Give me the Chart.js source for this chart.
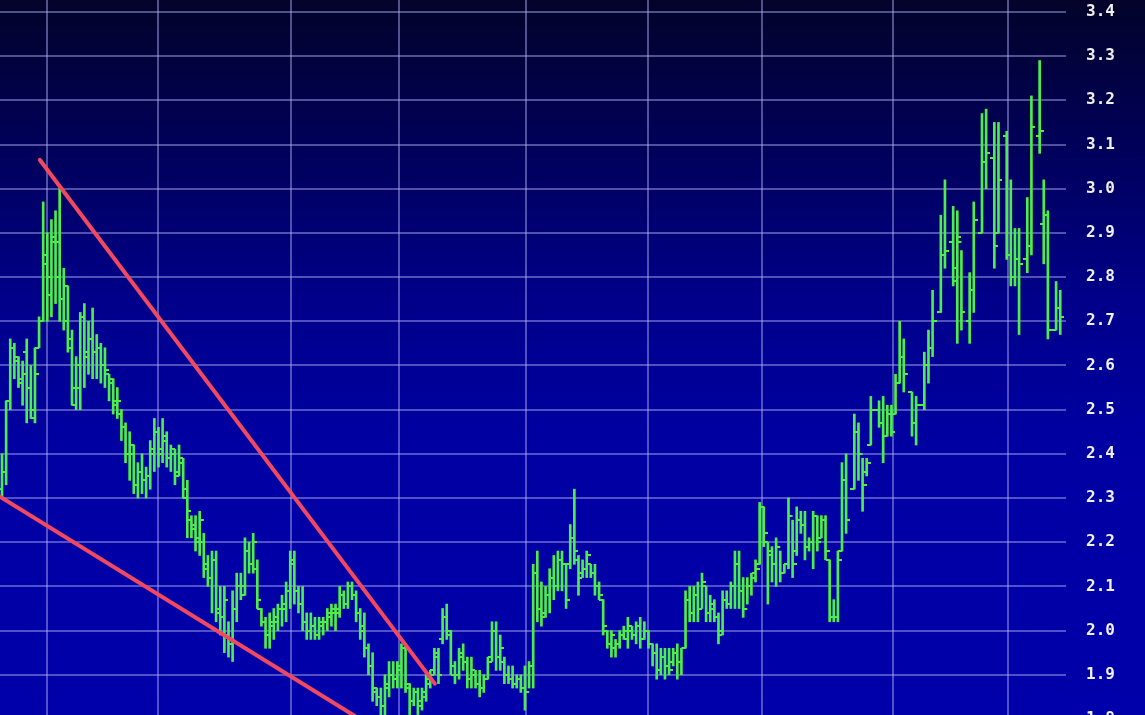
<!DOCTYPE html>
<html>
<head>
<meta charset="utf-8">
<script src="https://cdn.jsdelivr.net/npm/chart.js@4/dist/chart.umd.min.js"></script>
<style>
  html, body { margin: 0; padding: 0; background: #000066; }
  #wrap { width: 1145px; height: 715px; position: relative; }
</style>
</head>
<body>
<div id="wrap"><canvas id="ohlc"></canvas></div>
<script>
// trading sessions (x positions of the bars, a few sessions missing at the right end)
const sessions = [
  0,1,2,3,4,5,6,7,8,9,10,11,12,13,14,15,16,17,18,19,
  20,21,22,23,24,25,26,27,28,29,30,31,32,33,34,35,36,37,38,39,
  40,41,42,43,44,45,46,47,48,49,50,51,52,53,54,55,56,57,58,59,
  60,61,62,63,64,65,66,67,68,69,70,71,72,73,74,75,76,77,78,79,
  80,81,82,83,84,85,86,87,88,89,90,91,92,93,94,95,96,97,98,99,
  100,101,102,103,104,105,106,107,108,109,110,111,112,113,114,115,116,117,118,119,
  120,121,122,123,124,125,126,127,128,129,130,131,132,133,134,135,136,137,138,139,
  140,141,142,143,144,145,146,147,148,149,150,151,152,153,154,155,156,157,158,159,
  160,161,162,163,164,165,166,167,168,169,170,171,172,173,174,175,176,177,178,179,
  180,181,182,183,184,185,186,187,188,189,190,191,192,193,194,195,196,197,198,199,
  200,201,202,203,
  204,205,207,208,209,210,211,213,214,215,216,217,218,219,221,222,224,225,226,228,
  229,231,232,233,235,236,238,239,241,242,244,245,246,247,249,250,252,253,254,256,257
];

const highs = [
  2.40,2.52,2.66,2.65,2.62,2.61,2.66,2.60,2.64,2.71,2.97,2.90,2.93,2.95,3.00,2.82,
  2.78,2.68,2.62,2.72,2.74,2.70,2.73,2.67,2.65,2.64,2.58,2.57,2.55,2.50,2.47,2.45,
  2.42,2.38,2.40,2.37,2.43,2.48,2.46,2.48,2.45,2.42,2.41,2.42,2.39,
  2.34,2.26,2.26,2.27,2.22,2.17,2.18,2.18,2.10,2.10,
  2.02,2.09,2.13,2.13,2.21,2.20,2.22,2.16,2.05,2.03,
  2.04,2.05,2.06,2.08,2.11,2.18,2.18,2.10,2.10,2.04,
  2.04,2.03,2.03,2.03,2.05,2.06,2.06,2.10,2.09,2.11,
  2.11,2.09,2.05,2.04,1.97,1.95,1.87,1.87,1.90,1.93,
  1.93,1.93,1.97,1.97,1.88,1.87,1.87,1.87,1.90,1.91,
  1.96,1.96,2.05,2.06,2.00,1.93,1.96,1.97,1.94,1.94,
  1.91,1.91,1.90,1.94,2.02,2.02,1.99,1.94,1.92,1.92,
  1.90,1.90,1.92,1.93,2.15,
  2.18,2.11,2.10,2.14,2.17,2.18,2.18,2.15,2.24,2.32,
  2.17,2.16,2.18,2.15,2.15,2.11,2.07,2.00,2.00,1.98,
  2.00,2.01,2.03,2.01,2.02,2.03,2.02,2.00,1.97,1.97,
  1.96,1.96,1.96,1.96,1.97,1.96,2.09,2.10,2.10,2.11,
  2.13,2.10,2.08,2.07,2.04,2.09,2.09,2.11,2.18,2.18,
  2.12,2.12,2.13,2.16,2.29,2.28,2.20,2.19,2.21,2.18,
  2.15,2.30,2.25,2.28,2.27,2.27,2.21,2.27,2.26,2.26,
  2.26,2.16,2.07,2.18,
  2.38,2.40,2.49,2.47,2.39,2.39,2.53,2.52,2.53,2.51,
  2.51,2.58,2.70,2.66,2.54,2.53,2.63,2.68,2.77,2.94,
  3.02,2.96,2.95,2.86,2.81,2.97,3.17,3.18,3.15,3.15,
  3.13,3.02,2.91,2.91,2.98,3.21,3.29,3.02,2.95,2.79,2.77
];

const lows = [
  2.30,2.33,2.50,2.57,2.55,2.51,2.47,2.48,2.47,2.64,2.70,2.70,2.71,2.74,2.70,2.68,
  2.63,2.51,2.50,2.50,2.55,2.58,2.57,2.57,2.56,2.55,2.52,2.49,2.48,2.43,2.38,2.34,
  2.31,2.30,2.31,2.30,2.32,2.36,2.37,2.38,2.37,2.36,2.33,2.35,2.30,
  2.21,2.21,2.18,2.17,2.12,2.10,2.04,2.02,1.99,1.95,
  1.94,1.93,2.02,2.07,2.08,2.13,2.13,2.05,2.01,1.96,
  1.96,1.98,2.00,2.01,2.02,2.05,2.06,2.04,2.00,1.98,
  1.98,1.98,1.98,1.99,2.00,2.01,2.00,2.03,2.05,2.05,
  2.07,2.02,1.98,1.94,1.90,1.84,1.83,1.80,1.80,1.85,
  1.87,1.87,1.87,1.86,1.81,1.83,1.81,1.82,1.84,1.87,
  1.90,1.88,1.97,1.98,1.90,1.88,1.89,1.91,1.87,1.87,
  1.87,1.85,1.86,1.89,1.93,1.91,1.91,1.88,1.88,1.87,
  1.87,1.86,1.82,1.87,1.87,
  2.02,2.01,2.03,2.04,2.07,2.09,2.09,2.05,2.14,2.15,
  2.08,2.12,2.12,2.12,2.08,2.07,1.99,1.96,1.94,1.94,
  1.96,1.98,1.96,1.98,1.97,1.96,1.98,1.96,1.92,1.89,
  1.90,1.89,1.90,1.92,1.89,1.90,1.96,2.02,2.02,2.02,
  2.05,2.02,2.02,2.02,1.97,1.99,2.05,2.05,2.05,2.05,
  2.03,2.06,2.08,2.11,2.15,2.19,2.06,2.11,2.10,2.11,
  2.13,2.14,2.12,2.17,2.22,2.16,2.18,2.14,2.18,2.21,
  2.16,2.02,2.02,2.02,
  2.18,2.22,2.32,2.34,2.27,2.35,2.42,2.46,2.38,2.44,
  2.44,2.49,2.56,2.54,2.44,2.42,2.50,2.56,2.62,2.72,
  2.82,2.78,2.65,2.68,2.65,2.72,2.90,3.00,2.82,2.90,
  2.84,2.78,2.78,2.67,2.81,2.85,3.08,2.83,2.66,2.68,2.67
];

const opens = [
  2.32,2.36,2.52,2.64,2.61,2.56,2.63,2.55,2.48,2.64,2.70,2.83,2.80,2.88,2.88,2.75,
  2.70,2.66,2.55,2.55,2.71,2.62,2.66,2.63,2.64,2.60,2.58,2.56,2.52,2.49,2.46,2.40,
  2.40,2.33,2.36,2.34,2.35,2.40,2.45,2.41,2.43,2.39,2.40,2.36,2.38,
  2.30,2.25,2.24,2.20,2.20,2.15,2.12,2.16,2.05,2.03,
  1.99,1.98,2.05,2.10,2.10,2.18,2.15,2.14,2.05,2.02,
  1.99,2.01,2.02,2.05,2.05,2.09,2.15,2.09,2.06,2.02,
  2.00,2.01,1.99,2.01,2.02,2.03,2.04,2.04,2.08,2.06,
  2.10,2.08,2.04,2.00,1.96,1.92,1.86,1.85,1.83,1.87,
  1.90,1.89,1.91,1.96,1.87,1.84,1.86,1.84,1.85,1.88,
  1.91,1.94,1.98,2.03,1.99,1.90,1.90,1.95,1.93,1.89,
  1.90,1.88,1.87,1.89,1.94,2.00,1.94,1.93,1.90,1.89,
  1.88,1.89,1.87,1.86,1.92,
  2.13,2.05,2.04,2.08,2.12,2.10,2.16,2.15,2.15,2.21,
  2.16,2.13,2.14,2.15,2.13,2.10,2.07,2.00,1.97,1.96,
  1.97,1.99,1.98,2.00,1.99,2.01,1.98,2.00,1.97,1.95,
  1.91,1.94,1.92,1.93,1.95,1.93,1.96,2.07,2.04,2.08,
  2.05,2.10,2.04,2.05,2.03,2.00,2.07,2.06,2.10,2.15,
  2.09,2.05,2.10,2.13,2.15,2.28,2.20,2.17,2.15,2.19,
  2.13,2.15,2.26,2.18,2.25,2.24,2.19,2.20,2.26,2.21,
  2.25,2.16,2.03,2.03,
  2.18,2.34,2.32,2.45,2.40,2.36,2.42,2.50,2.47,2.44,
  2.49,2.49,2.56,2.62,2.54,2.47,2.51,2.60,2.64,2.72,
  2.85,2.88,2.82,2.88,2.70,2.77,2.90,3.06,3.07,2.90,
  3.12,2.85,2.80,2.84,2.84,2.87,3.12,2.92,2.94,2.68,2.73
];

const closes = [
  2.36,2.52,2.64,2.62,2.57,2.58,2.55,2.50,2.58,2.70,2.85,2.76,2.89,2.80,2.75,2.78,
  2.64,2.51,2.60,2.71,2.63,2.66,2.63,2.64,2.60,2.59,2.57,2.51,2.52,2.46,2.40,2.42,
  2.33,2.36,2.34,2.35,2.41,2.45,2.40,2.44,2.39,2.41,2.35,2.39,2.32,
  2.27,2.23,2.21,2.25,2.14,2.12,2.16,2.04,2.03,2.07,
  1.97,2.05,2.10,2.08,2.18,2.15,2.20,2.07,2.02,1.99,
  2.02,2.03,2.05,2.06,2.09,2.16,2.09,2.06,2.02,2.00,
  2.01,1.99,2.02,2.02,2.04,2.05,2.05,2.08,2.06,2.10,
  2.08,2.04,2.01,1.96,1.92,1.87,1.85,1.83,1.88,1.90,
  1.89,1.92,1.96,1.88,1.84,1.86,1.83,1.86,1.89,1.90,
  1.95,1.90,2.03,2.00,1.92,1.90,1.94,1.93,1.89,1.91,
  1.88,1.87,1.89,1.93,2.00,1.94,1.96,1.90,1.89,1.88,
  1.89,1.87,1.86,1.92,2.13,
  2.05,2.03,2.08,2.12,2.10,2.16,2.15,2.07,2.21,2.18,
  2.12,2.14,2.17,2.13,2.10,2.08,2.01,1.97,1.99,1.97,
  1.99,2.00,2.01,1.99,2.01,1.98,2.00,1.97,1.95,1.91,
  1.94,1.92,1.91,1.95,1.93,1.96,2.07,2.04,2.08,2.05,
  2.11,2.04,2.06,2.03,1.99,2.07,2.06,2.10,2.15,2.09,
  2.05,2.10,2.12,2.14,2.28,2.22,2.18,2.15,2.19,2.13,
  2.15,2.26,2.15,2.25,2.24,2.19,2.20,2.26,2.20,2.25,
  2.18,2.03,2.03,2.16,
  2.34,2.25,2.45,2.40,2.33,2.38,2.50,2.47,2.44,2.49,
  2.45,2.56,2.62,2.58,2.47,2.51,2.60,2.64,2.70,2.85,
  2.86,2.79,2.89,2.72,2.77,2.93,3.06,3.08,2.87,3.02,
  2.85,2.80,2.84,2.83,2.87,3.14,3.13,2.94,2.68,2.73,2.71
];

// price gridlines / labels on the right
const priceTicks = [1.8,1.9,2.0,2.1,2.2,2.3,2.4,2.5,2.6,2.7,2.8,2.9,3.0,3.1,3.2,3.3,3.4];
// vertical gridlines (period boundaries, in sessions)
const periodLines = [10.9, 37.9, 70.2, 96.4, 127.2, 156.9, 184.6, 216.4, 244.3];

// hand drawn falling wedge
const upperTrend = [{ x: 9.2, y: 3.065 }, { x: 105.1, y: 1.88 }];
const lowerTrend = [{ x: -0.49, y: 2.303 }, { x: 96.6, y: 1.744 }];

const GREEN = "#4cee4c";
const RED = "#f4485e";
const GRID = "rgba(170,170,240,0.48)";

function tickImage(side) {
  const c = document.createElement("canvas");
  c.width = 8;
  c.height = 2;
  const g = c.getContext("2d");
  g.fillStyle = GREEN;
  g.fillRect(side === "left" ? 0 : 4, 0, 4, 2);
  return c;
}

const bgPlugin = {
  id: "bg",
  beforeDraw(chart) {
    const { ctx, width, height } = chart;
    const grad = ctx.createLinearGradient(0, 0, 0, height);
    grad.addColorStop(0, "#03032a");
    grad.addColorStop(0.2, "#000058");
    grad.addColorStop(0.42, "#00008a");
    grad.addColorStop(0.62, "#0000a2");
    grad.addColorStop(1, "#0000aa");
    ctx.save();
    ctx.fillStyle = grad;
    ctx.fillRect(0, 0, width, height);
    ctx.restore();
  },
};

new Chart(document.getElementById("ohlc"), {
  type: "bar",
  data: {
    datasets: [
      { type: "line", data: upperTrend, borderColor: RED, borderWidth: 4, pointRadius: 0, borderCapStyle: "round", order: 0 },
      { type: "line", data: lowerTrend, borderColor: RED, borderWidth: 4, pointRadius: 0, borderCapStyle: "round", order: 0 },
      {
        type: "scatter",
        data: sessions.map((d, i) => ({ x: d, y: opens[i] })),
        pointStyle: tickImage("left"),
        pointRadius: 2,
        order: 1,
      },
      {
        type: "scatter",
        data: sessions.map((d, i) => ({ x: d, y: closes[i] })),
        pointStyle: tickImage("right"),
        pointRadius: 2,
        order: 1,
      },
      {
        type: "bar",
        data: sessions.map((d, i) => ({ x: d, y: [lows[i], highs[i]] })),
        backgroundColor: GREEN,
        barThickness: 2,
        grouped: false,
        order: 2,
      },
    ],
  },
  options: {
    animation: false,
    responsive: true,
    maintainAspectRatio: false,
    events: [],
    layout: { autoPadding: false, padding: 0 },
    plugins: {
      legend: { display: false },
      tooltip: { enabled: false },
    },
    scales: {
      x: {
        type: "linear",
        min: -0.49,
        max: 258.4,
        offset: false,
        grid: { offset: false, color: GRID, lineWidth: 2, drawTicks: false },
        border: { display: false },
        ticks: { display: false },
        afterBuildTicks: (axis) => {
          axis.ticks = periodLines.map((v) => ({ value: v }));
        },
        afterFit: (axis) => {
          axis.height = 0;
          axis.paddingLeft = 0;
          axis.paddingRight = 0;
        },
      },
      y: {
        position: "right",
        min: 1.809,
        max: 3.427,
        grid: { color: GRID, lineWidth: 2, drawTicks: false },
        border: { display: false },
        ticks: {
          color: "#f0f0f0",
          padding: 20,
          font: { family: "'DejaVu Sans Mono', monospace", size: 16, weight: "bold" },
          callback: (v) => Number(v).toFixed(1),
        },
        afterBuildTicks: (axis) => {
          axis.ticks = priceTicks.map((v) => ({ value: v }));
        },
        afterFit: (axis) => {
          axis.width = 79;
          axis.paddingTop = 0;
          axis.paddingBottom = 0;
        },
      },
    },
  },
  plugins: [bgPlugin],
});
</script>
</body>
</html>
